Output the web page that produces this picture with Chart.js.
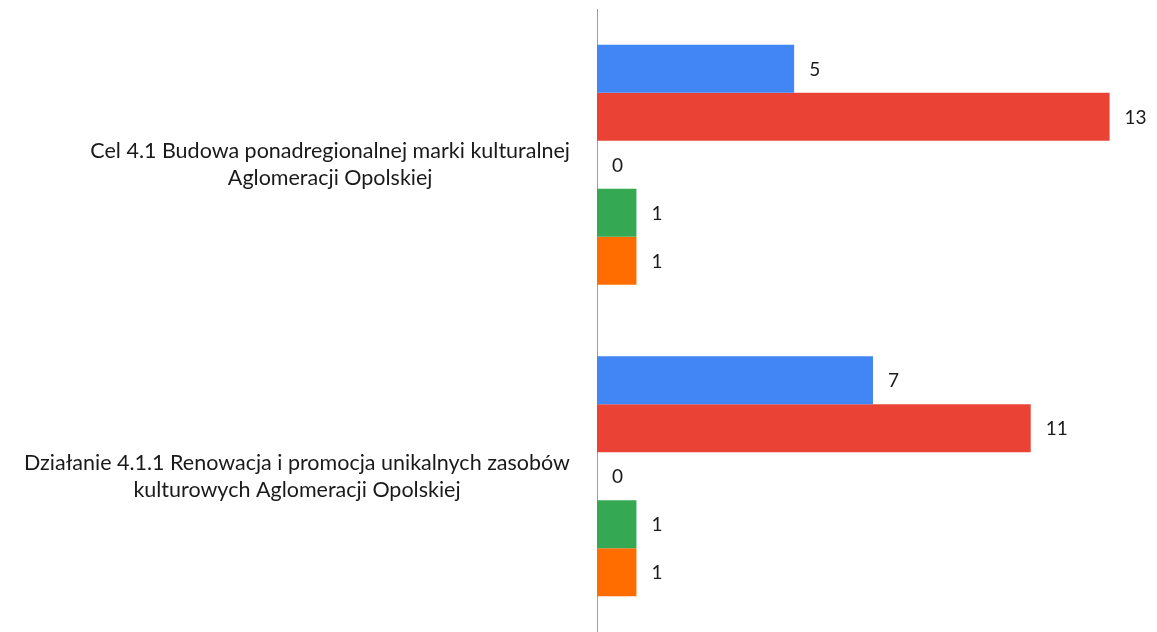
<!DOCTYPE html>
<html>
<head>
<meta charset="utf-8">
<script src="https://cdn.jsdelivr.net/npm/chart.js@4.4.1/dist/chart.umd.min.js"></script>
<style>
  body { margin: 0; background: #fff; }
  #wrap { width: 1157px; height: 632px; }
</style>
</head>
<body>
<div id="wrap"><canvas id="bars"></canvas></div>
<script>
// categories (each one split into its two text lines)
const categories = [
    ["Cel 4.1 Budowa ponadregionalnej marki kulturalnej", "Aglomeracji Opolskiej"],
    ["Działanie 4.1.1 Renowacja i promocja unikalnych zasobów", "kulturowych Aglomeracji Opolskiej"]
];
const seriesNames = ["Seria 1", "Seria 2", "Seria 3", "Seria 4", "Seria 5"];
const series1 = [5, 7];
const series2 = [13, 11];
const series3 = [0, 0];
const series4 = [1, 1];
const series5 = [1, 1];
const colors = ["#4285F4", "#EA4335", "#FBBC04", "#34A853", "#FF6D01"];

const FONT = "Lato, 'Open Sans', sans-serif";

// value labels at the end of each bar
const valueLabels = {
    id: "valueLabels",
    afterDatasetsDraw(chart) {
        const c = chart.ctx;
        c.save();
        c.font = "19px " + FONT;
        c.fillStyle = "#1a1a1a";
        c.textAlign = "left";
        c.textBaseline = "middle";
        chart.data.datasets.forEach(function (ds, i) {
            chart.getDatasetMeta(i).data.forEach(function (bar, j) {
                c.fillText(String(ds.data[j]), bar.x + 15, bar.y + 1);
            });
        });
        c.restore();
    }
};

// category labels: lines centred inside a block that is right-aligned
const categoryLabels = {
    id: "categoryLabels",
    afterDraw(chart) {
        const c = chart.ctx;
        const y = chart.scales.y;
        const lineH = 27;
        c.save();
        c.font = "21.5px " + FONT;
        c.fillStyle = "#1a1a1a";
        c.textAlign = "center";
        c.textBaseline = "middle";
        categories.forEach(function (lines, i) {
            const maxW = Math.max.apply(null, lines.map(function (t) { return c.measureText(t).width; }));
            const cx = y.right - 27 - maxW / 2;
            const cy = y.getPixelForValue(i);
            lines.forEach(function (t, k) {
                c.fillText(t, cx, cy + (k - (lines.length - 1) / 2) * lineH);
            });
        });
        c.restore();
    }
};

const ctx = document.getElementById("bars");
new Chart(ctx, {
    type: "bar",
    data: {
        labels: categories,
        datasets: [series1, series2, series3, series4, series5].map(function (d, i) {
            return {
                label: seriesNames[i],
                data: d,
                backgroundColor: colors[i],
                borderWidth: 0,
                categoryPercentage: 0.77,
                barPercentage: 1
            };
        })
    },
    options: {
        indexAxis: "y",
        responsive: true,
        maintainAspectRatio: false,
        animation: false,
        layout: { padding: { top: 9, right: 8, bottom: 0, left: 0 } },
        plugins: {
            legend: { display: false },
            tooltip: { enabled: false }
        },
        scales: {
            x: {
                display: false,
                min: 0,
                max: 14
            },
            y: {
                grid: { display: false },
                border: { display: true, color: "#9e9e9e", width: 1 },
                ticks: { display: false },
                afterFit: function (scale) { scale.width = 597; }
            }
        }
    },
    plugins: [valueLabels, categoryLabels]
});
</script>
</body>
</html>
